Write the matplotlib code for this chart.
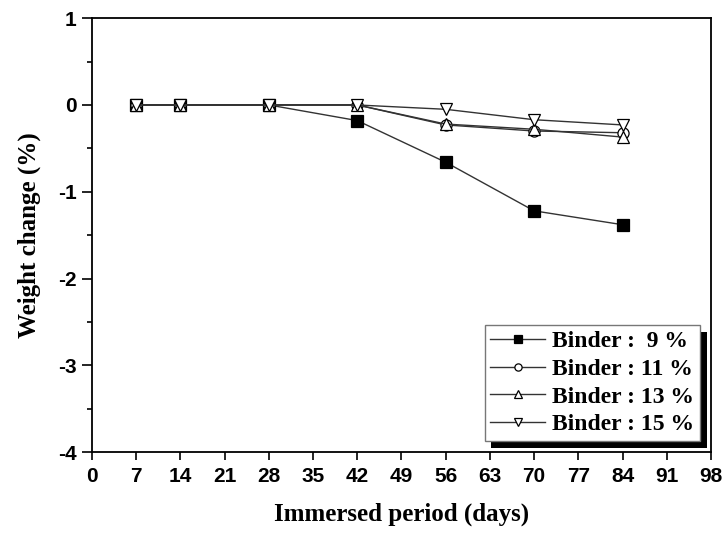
import numpy as np
import matplotlib
matplotlib.use("Agg")
import matplotlib.pyplot as plt
import matplotlib.patheffects as pe
from matplotlib.ticker import MultipleLocator

plt.rcParams["axes.unicode_minus"] = False

# immersion days and weight change (%) for each binder content
days = [7, 14, 28, 42, 56, 70, 84]
binder_9 = [0, 0, 0, -0.18, -0.66, -1.22, -1.38]
binder_11 = [0, 0, 0, 0, -0.23, -0.30, -0.32]
binder_13 = [0, 0, 0, 0, -0.22, -0.28, -0.37]
binder_15 = [0, 0, 0, 0, -0.05, -0.17, -0.23]
labels = ["Binder :  9 %", "Binder : 11 %", "Binder : 13 %", "Binder : 15 %"]

fig = plt.figure(figsize=(7.26, 5.35), dpi=100)
ax = fig.add_axes([0.1267, 0.155, 0.8526, 0.811])

series = [binder_9, binder_11, binder_13, binder_15]
markers = ["s", "o", "^", "v"]
faces = ["black", "white", "white", "white"]
for vals, m, fc, lab in zip(series, markers, faces, labels):
    ax.plot(days, vals, color="#333333", lw=1.0, marker=m, markersize=8,
            markerfacecolor=fc, markeredgecolor="black", markeredgewidth=0.9,
            label=lab)

ax.set_xlim(0, 98)
ax.set_ylim(-4, 1)
ax.xaxis.set_major_locator(MultipleLocator(7))
ax.yaxis.set_major_locator(MultipleLocator(1))
ax.yaxis.set_minor_locator(MultipleLocator(0.5))
ax.tick_params(axis="x", which="major", direction="out", length=6, width=1.2, pad=5)
ax.tick_params(axis="y", which="major", direction="out", length=7, width=1.2, pad=4)
ax.tick_params(axis="y", which="minor", direction="out", length=3.5, width=1.2)
ax.tick_params(top=False, right=False)
for sp in ax.spines.values():
    sp.set_linewidth(1.3)

for t in ax.get_xticklabels() + ax.get_yticklabels():
    t.set_fontfamily("Liberation Sans")
    t.set_fontweight("bold")
    t.set_fontsize(15)

ax.set_xlabel("Immersed period (days)", fontfamily="Liberation Serif",
              fontweight="bold", fontsize=18, labelpad=12)
ax.set_ylabel("Weight change (%)", fontfamily="Liberation Serif",
              fontweight="bold", fontsize=18, labelpad=12)

leg = ax.legend(loc="lower right", bbox_to_anchor=(0.982, 0.025),
                borderaxespad=0, fancybox=False, edgecolor="#777777",
                framealpha=1, markerscale=0.65,
                prop={"family": "Liberation Serif", "weight": "bold", "size": 17},
                handlelength=2.3, borderpad=0.25, labelspacing=0.26,
                handletextpad=0.3)
frame = leg.get_frame()
frame.set_linewidth(1.0)
frame.set_path_effects([pe.SimplePatchShadow(offset=(5, -5), shadow_rgbFace="black",
                                             alpha=1.0), pe.Normal()])

fig.savefig("out.png", dpi=100)
